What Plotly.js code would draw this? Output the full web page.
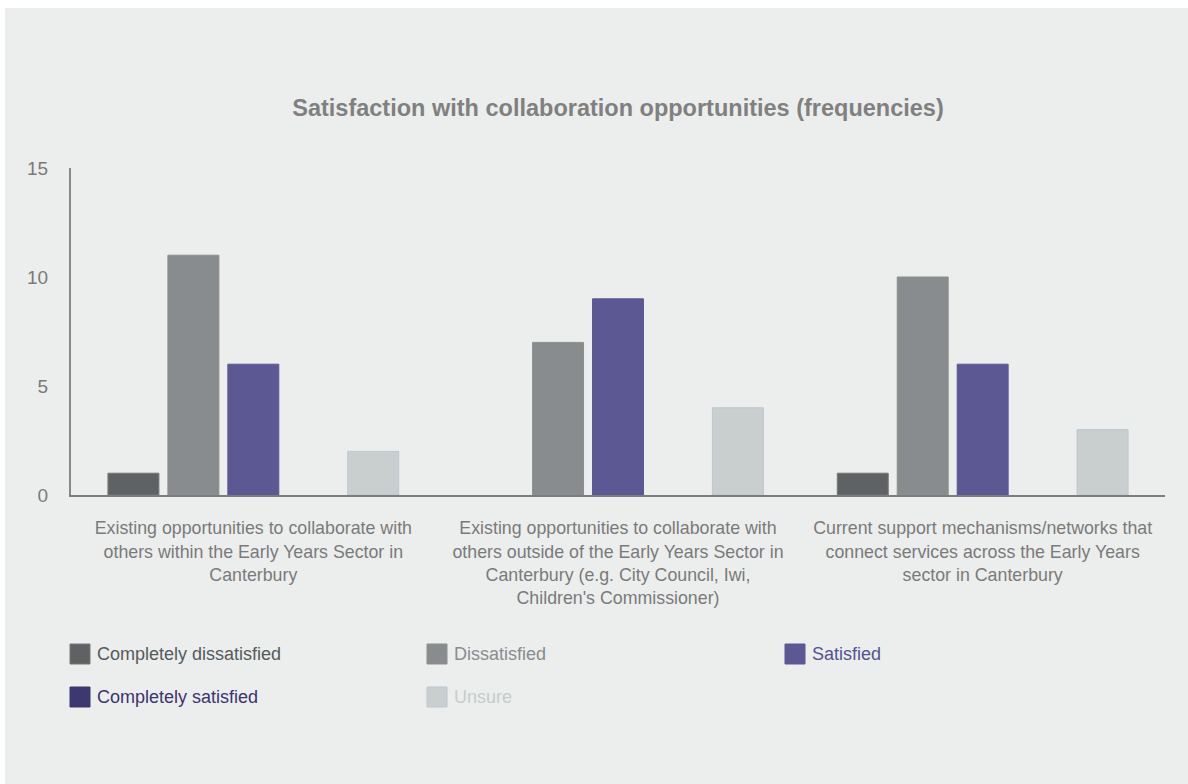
<!DOCTYPE html>
<html>
<head>
<meta charset="utf-8">
<script src="https://cdn.plot.ly/plotly-3.0.1.min.js"></script>
<style>
html,body{margin:0;padding:0;background:#ffffff;}
#chart{position:absolute;left:5px;top:8px;width:1183px;height:776px;}
</style>
</head>
<body>
<div id="chart"></div>
<script>
var categories = [
  "Existing opportunities to collaborate with<br>others within the Early Years Sector in<br>Canterbury",
  "Existing opportunities to collaborate with<br>others outside of the Early Years Sector in<br>Canterbury (e.g. City Council, Iwi,<br>Children's Commissioner)",
  "Current support mechanisms/networks that<br>connect services across the Early Years<br>sector in Canterbury"
];
var seriesNames = ["Completely dissatisfied", "Dissatisfied", "Satisfied", "Completely satisfied", "Unsure"];
var completelyDissatisfied = [1, 0, 1];
var dissatisfied = [11, 7, 10];
var satisfied = [6, 9, 6];
var completelySatisfied = [0, 0, 0];
var unsure = [2, 4, 3];
var seriesValues = [completelyDissatisfied, dissatisfied, satisfied, completelySatisfied, unsure];
var seriesColors = ["#5f6264", "#898c8e", "#5b5894", "#3d386f", "#c9cfcf"];
var seriesLines = ["#7a7672", "#8f8f8a", "#5b5894", "#3d386f", "#bcc7d2"];
var legendTextColors = ["#555a5c", "#898c8e", "#555294", "#3a3470", "#c6cccc"];

var traces = seriesNames.map(function(n, i){
  return {
    type: "bar", name: n, x: categories, y: seriesValues[i],
    marker: {color: seriesColors[i], line: {color: seriesLines[i],
      width: seriesValues[i].map(function(v){ return v > 0 ? 1 : 0; })}},
    showlegend: false, hoverinfo: "x+y+name"
  };
});

// custom legend (3 columns)
var plotW = 1094, plotH = 327;
var colX = [-1, 356, 714];   // px relative to plot left
var rowY = [-159, -202];     // px relative to plot bottom (negative = below)
var shapes = [], annotations = [];
seriesNames.forEach(function(n, i){
  var cx = colX[i % 3], cy = rowY[Math.floor(i / 3)];
  shapes.push({
    type: "rect", xref: "paper", yref: "paper",
    x0: cx / plotW, x1: (cx + 20) / plotW,
    y0: (cy - 10) / plotH, y1: (cy + 10) / plotH,
    fillcolor: seriesColors[i], line: {color: seriesLines[i], width: 1}
  });
  annotations.push({
    xref: "paper", yref: "paper", x: (cx + 25) / plotW, y: cy / plotH,
    xanchor: "left", yanchor: "middle", showarrow: false,
    text: n, font: {family: "Liberation Sans, Arial, sans-serif", size: 18, color: legendTextColors[i]}
  });
});

var layout = {
  width: 1183, height: 776,
  paper_bgcolor: "#eceeed", plot_bgcolor: "#eceeed",
  margin: {l: 66, r: 23, t: 160, b: 289},
  font: {family: "Liberation Sans, Arial, sans-serif", color: "#777777"},
  title: {
    text: "<b>Satisfaction with collaboration opportunities (frequencies)</b>",
    font: {size: 23.5, color: "#808080"},
    x: 0.5, xref: "paper", xanchor: "center",
    y: 1 - 100 / 776, yref: "container", yanchor: "middle"
  },
  barmode: "group", bargap: 0.178, bargroupgap: 0.15,
  xaxis: {
    type: "category", showline: true, linecolor: "#7d7d7d", linewidth: 2,
    showgrid: false, zeroline: false, ticks: "",
    tickfont: {size: 17.8, color: "#7a7a7a"},
    ticklabelstandoff: 16
  },
  yaxis: {
    range: [0, 15], tickvals: [0, 5, 10, 15], showline: true, linecolor: "#888888", linewidth: 2,
    showgrid: false, zeroline: false, ticks: "",
    tickfont: {size: 19, color: "#7a7a7a"},
    ticklabelstandoff: 17
  },
  shapes: shapes, annotations: annotations,
  showlegend: false
};
Plotly.newPlot("chart", traces, layout, {displayModeBar: false, staticPlot: true});
</script>
</body>
</html>
